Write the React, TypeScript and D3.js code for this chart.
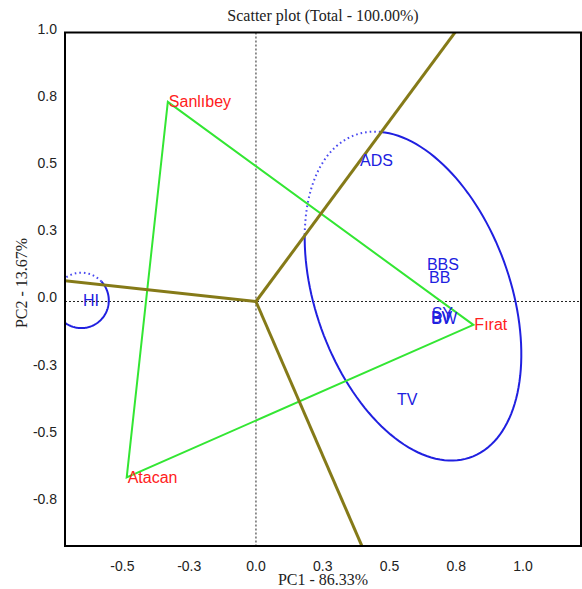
import React from "react";
import * as d3 from "d3";

const xTickValues = [-0.5, -0.25, 0, 0.25, 0.5, 0.75, 1.0];
const xTickLabels = ["-0.5", "-0.3", "0.0", "0.3", "0.5", "0.8", "1.0"];
const yTickValues = [-0.75, -0.5, -0.25, 0, 0.25, 0.5, 0.75, 1.0];
const yTickLabels = ["-0.8", "-0.5", "-0.3", "0.0", "0.3", "0.5", "0.8", "1.0"];

const genotypes = ["ADS", "BBS", "BB", "SY", "BV", "BW", "TV", "HI"];
const genoX = [0.39, 0.64, 0.648, 0.658, 0.655, 0.657, 0.528, -0.648];
const genoY = [0.526, 0.139, 0.089, -0.046, -0.061, -0.065, -0.366, 0.002];

const envs = ["Sanlıbey", "Fırat", "Atacan"];
const envX = [-0.33, 0.814, -0.484];
const envY = [0.742, -0.087, -0.654];

// sector lines from origin (perpendicular to polygon sides), extended past the frame
const rayX = [0.894, -0.9, 0.48];
const rayY = [1.2, 0.097, -1.1];

// ellipses: centre, semi-axes, rotation, dotted arc range (deg)
const ellipseCx = [0.588, -0.654];
const ellipseCy = [0.02, 0.004];
const ellipseA = [0.637, 0.103];
const ellipseB = [0.364, 0.103];
const ellipseRot = [-70, 0];
const ellipseDotFrom = [165, 43];
const ellipseDotTo = [236, 180];

export default function App() {
  const W = 582, H = 589;
  const L = 65, R = 581, T = 32.5, B = 546;
  const x = d3.scaleLinear().domain([-0.715, 1.217]).range([L, R]);
  const y = d3.scaleLinear().domain([-0.909, 1.0]).range([B, T]);
  const line = d3.line<[number, number]>();

  const arc = (i: number, t0: number, t1: number) => {
    const n = 120;
    const th = (ellipseRot[i] * Math.PI) / 180;
    const pts: [number, number][] = d3.range(n + 1).map((k) => {
      const t = ((t0 + ((t1 - t0) * k) / n) * Math.PI) / 180;
      const dx = ellipseA[i] * Math.cos(t) * Math.cos(th) - ellipseB[i] * Math.sin(t) * Math.sin(th);
      const dy = ellipseA[i] * Math.cos(t) * Math.sin(th) + ellipseB[i] * Math.sin(t) * Math.cos(th);
      return [x(ellipseCx[i] + dx), y(ellipseCy[i] + dy)];
    });
    return line(pts) || "";
  };

  const tri: [number, number][] = envX.map((v, i) => [x(v), y(envY[i])]);
  const triPath = (line(tri) || "") + "Z";

  const sans = "'Liberation Sans', Arial, sans-serif";
  const serif = "'Liberation Serif', 'Times New Roman', serif";
  const blue = "#2020e0";

  return (
    <svg width={W} height={H} style={{ position: "absolute", left: 0, top: 0, background: "#fff" }}>
      <defs>
        <clipPath id="plotclip">
          <rect x={L} y={T} width={R - L} height={B - T} />
        </clipPath>
      </defs>
      <rect x={0} y={0} width={W} height={H} fill="#fff" />
      <g clipPath="url(#plotclip)">
        <line x1={x(0)} x2={x(0)} y1={T} y2={B} stroke="#222" strokeWidth={1} strokeDasharray="2,2" />
        <line x1={L} x2={R} y1={y(0)} y2={y(0)} stroke="#222" strokeWidth={1} strokeDasharray="2,2" />
        {ellipseCx.map((_, i) => (
          <g key={"e" + i}>
            <path d={arc(i, ellipseDotTo[i], ellipseDotFrom[i] + 360)} fill="none" stroke={blue} strokeWidth={2} />
            <path d={arc(i, ellipseDotFrom[i], ellipseDotTo[i])} fill="none" stroke="#4a4af0" strokeWidth={2} strokeDasharray="1.6,3" />
          </g>
        ))}
        <path d={triPath} fill="none" stroke="#33e633" strokeWidth={2} />
        {rayX.map((v, i) => (
          <line key={"r" + i} x1={x(0)} y1={y(0)} x2={x(v)} y2={y(rayY[i])} stroke="#857a18" strokeWidth={3} />
        ))}
        {genotypes.map((g, i) => (
          <text key={g} x={x(genoX[i])} y={y(genoY[i])} dominantBaseline="central" fontFamily={sans} fontSize={16} fill={blue}>
            {g}
          </text>
        ))}
        {envs.map((e, i) => (
          <text key={e} x={x(envX[i]) + 1} y={y(envY[i])} dominantBaseline="central" fontFamily={sans} fontSize={16} fill="#ff2020">
            {e}
          </text>
        ))}
      </g>
      <rect x={L} y={T} width={R - L} height={B - T} fill="none" stroke="#000" strokeWidth={2} />
      {xTickValues.map((v, i) => (
        <text key={"xt" + i} x={x(v)} y={571} textAnchor="middle" fontFamily={sans} fontSize={14} fill="#222">
          {xTickLabels[i]}
        </text>
      ))}
      {yTickValues.map((v, i) => (
        <text key={"yt" + i} x={57} y={y(v) + 1} textAnchor="end" fontFamily={sans} fontSize={14} fill="#222">
          {yTickLabels[i]}
        </text>
      ))}
      <text x={(L + R) / 2} y={21} textAnchor="middle" fontFamily={serif} fontSize={16} fill="#222">
        Scatter plot (Total - 100.00%)
      </text>
      <text x={(L + R) / 2} y={585} textAnchor="middle" fontFamily={serif} fontSize={16} fill="#222">
        PC1 - 86.33%
      </text>
      <text transform={`translate(27, 283) rotate(-90)`} textAnchor="middle" fontFamily={serif} fontSize={16} fill="#222">
        PC2 - 13.67%
      </text>
    </svg>
  );
}
